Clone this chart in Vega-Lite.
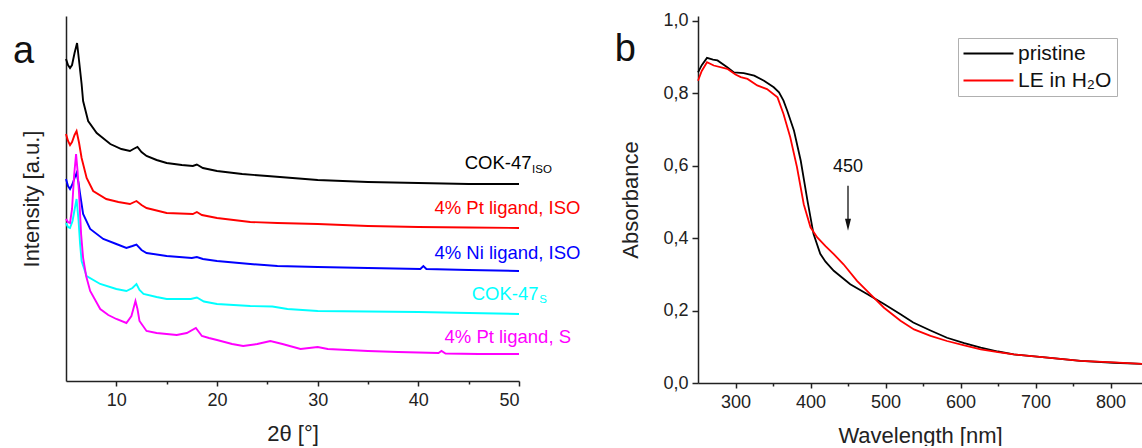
{
  "$schema": "https://vega.github.io/schema/vega-lite/v6.json",
  "background": "white",
  "padding": {"left": 13, "top": 11, "right": 0, "bottom": 0},
  "bounds": "flush",
  "spacing": 179,
  "config": {
    "font": "Liberation Sans",
    "view": {"stroke": null},
    "axis": {
      "domainColor": "#222", "domainWidth": 1.5, "tickColor": "#222", "tickWidth": 1.5,
      "labelFontSize": 18, "titleFontSize": 22, "titleFontWeight": "normal",
      "labelColor": "#222", "titleColor": "#222", "grid": false,
      "labelFont": "Liberation Sans", "titleFont": "Liberation Sans"
    }
  },
  "resolve": {"scale": {"color": "independent"}},
  "datasets": {
    "xrd": [
      {"s":"COK-47 ISO","t":5.0,"i":322},{"s":"COK-47 ISO","t":5.2,"i":316},{"s":"COK-47 ISO","t":5.4,"i":313},{"s":"COK-47 ISO","t":5.6,"i":316},{"s":"COK-47 ISO","t":5.85,"i":328},{"s":"COK-47 ISO","t":6.1,"i":338},{"s":"COK-47 ISO","t":6.3,"i":320},{"s":"COK-47 ISO","t":6.55,"i":297},{"s":"COK-47 ISO","t":6.7,"i":280},{"s":"COK-47 ISO","t":7.2,"i":260},{"s":"COK-47 ISO","t":8.05,"i":248},{"s":"COK-47 ISO","t":9.4,"i":237},{"s":"COK-47 ISO","t":10.5,"i":232},{"s":"COK-47 ISO","t":11.35,"i":230},{"s":"COK-47 ISO","t":11.7,"i":232},{"s":"COK-47 ISO","t":12.1,"i":234},{"s":"COK-47 ISO","t":12.5,"i":229},{"s":"COK-47 ISO","t":13.0,"i":225},{"s":"COK-47 ISO","t":14.0,"i":221},{"s":"COK-47 ISO","t":15.0,"i":218},{"s":"COK-47 ISO","t":16.5,"i":216},{"s":"COK-47 ISO","t":17.6,"i":215},{"s":"COK-47 ISO","t":18.0,"i":216.5},{"s":"COK-47 ISO","t":18.6,"i":213},{"s":"COK-47 ISO","t":20,"i":210},{"s":"COK-47 ISO","t":22.5,"i":207},{"s":"COK-47 ISO","t":25,"i":205},{"s":"COK-47 ISO","t":27.5,"i":203},{"s":"COK-47 ISO","t":30,"i":201},{"s":"COK-47 ISO","t":35,"i":199},{"s":"COK-47 ISO","t":40,"i":198},{"s":"COK-47 ISO","t":45,"i":197},{"s":"COK-47 ISO","t":50,"i":197},

      {"s":"4% Pt ligand, ISO","t":5.0,"i":247},{"s":"4% Pt ligand, ISO","t":5.2,"i":240},{"s":"4% Pt ligand, ISO","t":5.4,"i":236},{"s":"4% Pt ligand, ISO","t":5.6,"i":239},{"s":"4% Pt ligand, ISO","t":5.85,"i":246},{"s":"4% Pt ligand, ISO","t":6.05,"i":250},{"s":"4% Pt ligand, ISO","t":6.3,"i":238},{"s":"4% Pt ligand, ISO","t":6.55,"i":223},{"s":"4% Pt ligand, ISO","t":7.05,"i":203},{"s":"4% Pt ligand, ISO","t":7.7,"i":190},{"s":"4% Pt ligand, ISO","t":9.0,"i":182},{"s":"4% Pt ligand, ISO","t":10.2,"i":179},{"s":"4% Pt ligand, ISO","t":11.35,"i":177},{"s":"4% Pt ligand, ISO","t":12.0,"i":180},{"s":"4% Pt ligand, ISO","t":12.5,"i":176},{"s":"4% Pt ligand, ISO","t":13.0,"i":173},{"s":"4% Pt ligand, ISO","t":15.0,"i":168},{"s":"4% Pt ligand, ISO","t":17.6,"i":167},{"s":"4% Pt ligand, ISO","t":18.0,"i":169},{"s":"4% Pt ligand, ISO","t":18.5,"i":166},{"s":"4% Pt ligand, ISO","t":20,"i":163},{"s":"4% Pt ligand, ISO","t":23.3,"i":159},{"s":"4% Pt ligand, ISO","t":26,"i":158},{"s":"4% Pt ligand, ISO","t":30,"i":157},{"s":"4% Pt ligand, ISO","t":35,"i":155},{"s":"4% Pt ligand, ISO","t":40,"i":154},{"s":"4% Pt ligand, ISO","t":45,"i":153.5},{"s":"4% Pt ligand, ISO","t":50,"i":153},

      {"s":"4% Ni ligand, ISO","t":5.0,"i":202},{"s":"4% Ni ligand, ISO","t":5.2,"i":195},{"s":"4% Ni ligand, ISO","t":5.4,"i":192},{"s":"4% Ni ligand, ISO","t":5.6,"i":196},{"s":"4% Ni ligand, ISO","t":5.85,"i":203},{"s":"4% Ni ligand, ISO","t":6.05,"i":208},{"s":"4% Ni ligand, ISO","t":6.25,"i":198},{"s":"4% Ni ligand, ISO","t":6.4,"i":187},{"s":"4% Ni ligand, ISO","t":6.7,"i":167},{"s":"4% Ni ligand, ISO","t":7.4,"i":152},{"s":"4% Ni ligand, ISO","t":8.7,"i":142},{"s":"4% Ni ligand, ISO","t":10,"i":137},{"s":"4% Ni ligand, ISO","t":11.0,"i":133},{"s":"4% Ni ligand, ISO","t":11.6,"i":135},{"s":"4% Ni ligand, ISO","t":12.0,"i":136.5},{"s":"4% Ni ligand, ISO","t":12.5,"i":131},{"s":"4% Ni ligand, ISO","t":13.0,"i":128},{"s":"4% Ni ligand, ISO","t":15.0,"i":125},{"s":"4% Ni ligand, ISO","t":17.5,"i":123},{"s":"4% Ni ligand, ISO","t":18.0,"i":124},{"s":"4% Ni ligand, ISO","t":18.6,"i":122},{"s":"4% Ni ligand, ISO","t":20,"i":120},{"s":"4% Ni ligand, ISO","t":23.3,"i":117},{"s":"4% Ni ligand, ISO","t":26,"i":115},{"s":"4% Ni ligand, ISO","t":30,"i":114},{"s":"4% Ni ligand, ISO","t":35,"i":113},{"s":"4% Ni ligand, ISO","t":40.2,"i":112},{"s":"4% Ni ligand, ISO","t":40.5,"i":115},{"s":"4% Ni ligand, ISO","t":40.8,"i":112},{"s":"4% Ni ligand, ISO","t":45,"i":111},{"s":"4% Ni ligand, ISO","t":50,"i":110},

      {"s":"COK-47 S","t":5.0,"i":158},{"s":"COK-47 S","t":5.2,"i":154},{"s":"COK-47 S","t":5.4,"i":153},{"s":"COK-47 S","t":5.65,"i":160},{"s":"COK-47 S","t":5.9,"i":174},{"s":"COK-47 S","t":6.05,"i":182},{"s":"COK-47 S","t":6.25,"i":160},{"s":"COK-47 S","t":6.4,"i":137},{"s":"COK-47 S","t":6.55,"i":120},{"s":"COK-47 S","t":7.05,"i":105},{"s":"COK-47 S","t":8.4,"i":97},{"s":"COK-47 S","t":10,"i":92},{"s":"COK-47 S","t":11.0,"i":90},{"s":"COK-47 S","t":11.6,"i":93},{"s":"COK-47 S","t":12.0,"i":97},{"s":"COK-47 S","t":12.3,"i":91},{"s":"COK-47 S","t":12.7,"i":87},{"s":"COK-47 S","t":14,"i":84},{"s":"COK-47 S","t":15.0,"i":82},{"s":"COK-47 S","t":17.4,"i":82},{"s":"COK-47 S","t":18.0,"i":83.5},{"s":"COK-47 S","t":18.7,"i":79.5},{"s":"COK-47 S","t":20,"i":77},{"s":"COK-47 S","t":23.3,"i":75},{"s":"COK-47 S","t":25.5,"i":74.5},{"s":"COK-47 S","t":27,"i":72},{"s":"COK-47 S","t":30,"i":70},{"s":"COK-47 S","t":35,"i":69.5},{"s":"COK-47 S","t":40,"i":69},{"s":"COK-47 S","t":45,"i":68},{"s":"COK-47 S","t":50,"i":67},

      {"s":"4% Pt ligand, S","t":5.0,"i":162},{"s":"4% Pt ligand, S","t":5.2,"i":159},{"s":"4% Pt ligand, S","t":5.4,"i":158},{"s":"4% Pt ligand, S","t":5.6,"i":172},{"s":"4% Pt ligand, S","t":5.8,"i":205},{"s":"4% Pt ligand, S","t":6.0,"i":227},{"s":"4% Pt ligand, S","t":6.15,"i":210},{"s":"4% Pt ligand, S","t":6.3,"i":187},{"s":"4% Pt ligand, S","t":6.5,"i":147},{"s":"4% Pt ligand, S","t":6.7,"i":123},{"s":"4% Pt ligand, S","t":7.0,"i":105},{"s":"4% Pt ligand, S","t":7.4,"i":90},{"s":"4% Pt ligand, S","t":8.4,"i":72},{"s":"4% Pt ligand, S","t":9.2,"i":66},{"s":"4% Pt ligand, S","t":10.0,"i":62},{"s":"4% Pt ligand, S","t":11.0,"i":58},{"s":"4% Pt ligand, S","t":11.5,"i":65},{"s":"4% Pt ligand, S","t":11.9,"i":80},{"s":"4% Pt ligand, S","t":12.1,"i":72},{"s":"4% Pt ligand, S","t":12.3,"i":60},{"s":"4% Pt ligand, S","t":13.0,"i":50},{"s":"4% Pt ligand, S","t":14,"i":48},{"s":"4% Pt ligand, S","t":15.0,"i":47},{"s":"4% Pt ligand, S","t":16,"i":46},{"s":"4% Pt ligand, S","t":17.0,"i":48},{"s":"4% Pt ligand, S","t":17.9,"i":53},{"s":"4% Pt ligand, S","t":18.5,"i":45},{"s":"4% Pt ligand, S","t":19.2,"i":43},{"s":"4% Pt ligand, S","t":20.0,"i":41},{"s":"4% Pt ligand, S","t":21.5,"i":37},{"s":"4% Pt ligand, S","t":22.6,"i":35},{"s":"4% Pt ligand, S","t":24,"i":37},{"s":"4% Pt ligand, S","t":25.3,"i":40},{"s":"4% Pt ligand, S","t":26.5,"i":37},{"s":"4% Pt ligand, S","t":28.3,"i":32},{"s":"4% Pt ligand, S","t":30.0,"i":34},{"s":"4% Pt ligand, S","t":31,"i":32},{"s":"4% Pt ligand, S","t":35,"i":30},{"s":"4% Pt ligand, S","t":38,"i":29},{"s":"4% Pt ligand, S","t":42.0,"i":28},{"s":"4% Pt ligand, S","t":42.3,"i":30},{"s":"4% Pt ligand, S","t":42.7,"i":27.5},{"s":"4% Pt ligand, S","t":46,"i":27},{"s":"4% Pt ligand, S","t":50,"i":27}
    ],
    "xrdlabels": [
      {"s":"COK-47 ISO","text":"COK-47","t":44.6,"i":218.5,"kind":"main"},
      {"s":"COK-47 ISO","text":"ISO","t":51.3,"i":211.5,"kind":"sub"},
      {"s":"4% Pt ligand, ISO","text":"4% Pt ligand, ISO","t":41.6,"i":173.5,"kind":"main"},
      {"s":"4% Ni ligand, ISO","text":"4% Ni ligand, ISO","t":41.6,"i":128.5,"kind":"main"},
      {"s":"COK-47 S","text":"COK-47","t":45.3,"i":87,"kind":"main"},
      {"s":"COK-47 S","text":"S","t":52.0,"i":81,"kind":"sub"},
      {"s":"4% Pt ligand, S","text":"4% Pt ligand, S","t":42.6,"i":44,"kind":"main"}
    ],
    "panelA": [{"text":"a","t":-0.26,"i":318}],
    "panelB": [{"text":"b","wl":139,"abs":0.889}],
    "uv": [
      {"sample":"pristine","wl":250,"abs":0.858},{"sample":"pristine","wl":255,"abs":0.878},{"sample":"pristine","wl":262,"abs":0.898},{"sample":"pristine","wl":270,"abs":0.893},{"sample":"pristine","wl":276,"abs":0.891},{"sample":"pristine","wl":289,"abs":0.872},{"sample":"pristine","wl":298,"abs":0.858},{"sample":"pristine","wl":311,"abs":0.856},{"sample":"pristine","wl":325,"abs":0.849},{"sample":"pristine","wl":338,"abs":0.835},{"sample":"pristine","wl":351,"abs":0.817},{"sample":"pristine","wl":358,"abs":0.803},{"sample":"pristine","wl":364,"abs":0.78},{"sample":"pristine","wl":369,"abs":0.752},{"sample":"pristine","wl":378,"abs":0.697},{"sample":"pristine","wl":387,"abs":0.614},{"sample":"pristine","wl":396,"abs":0.503},{"sample":"pristine","wl":404,"abs":0.412},{"sample":"pristine","wl":413,"abs":0.357},{"sample":"pristine","wl":420,"abs":0.335},{"sample":"pristine","wl":431,"abs":0.31},{"sample":"pristine","wl":453,"abs":0.273},{"sample":"pristine","wl":476,"abs":0.245},{"sample":"pristine","wl":498,"abs":0.218},{"sample":"pristine","wl":520,"abs":0.19},{"sample":"pristine","wl":537,"abs":0.167},{"sample":"pristine","wl":560,"abs":0.145},{"sample":"pristine","wl":582,"abs":0.125},{"sample":"pristine","wl":605,"abs":0.11},{"sample":"pristine","wl":627,"abs":0.098},{"sample":"pristine","wl":650,"abs":0.087},{"sample":"pristine","wl":671,"abs":0.079},{"sample":"pristine","wl":716,"abs":0.07},{"sample":"pristine","wl":760,"abs":0.061},{"sample":"pristine","wl":804,"abs":0.056},{"sample":"pristine","wl":842,"abs":0.053},
      {"sample":"LE in H₂O","wl":250,"abs":0.835},{"sample":"LE in H₂O","wl":255,"abs":0.862},{"sample":"LE in H₂O","wl":262,"abs":0.886},{"sample":"LE in H₂O","wl":271,"abs":0.877},{"sample":"LE in H₂O","wl":289,"abs":0.868},{"sample":"LE in H₂O","wl":300,"abs":0.852},{"sample":"LE in H₂O","wl":307,"abs":0.845},{"sample":"LE in H₂O","wl":316,"abs":0.84},{"sample":"LE in H₂O","wl":329,"abs":0.822},{"sample":"LE in H₂O","wl":342,"abs":0.812},{"sample":"LE in H₂O","wl":356,"abs":0.789},{"sample":"LE in H₂O","wl":364,"abs":0.743},{"sample":"LE in H₂O","wl":373,"abs":0.679},{"sample":"LE in H₂O","wl":382,"abs":0.596},{"sample":"LE in H₂O","wl":391,"abs":0.494},{"sample":"LE in H₂O","wl":400,"abs":0.43},{"sample":"LE in H₂O","wl":409,"abs":0.402},{"sample":"LE in H₂O","wl":420,"abs":0.378},{"sample":"LE in H₂O","wl":431,"abs":0.356},{"sample":"LE in H₂O","wl":444,"abs":0.328},{"sample":"LE in H₂O","wl":462,"abs":0.282},{"sample":"LE in H₂O","wl":480,"abs":0.245},{"sample":"LE in H₂O","wl":498,"abs":0.208},{"sample":"LE in H₂O","wl":520,"abs":0.172},{"sample":"LE in H₂O","wl":538,"abs":0.148},{"sample":"LE in H₂O","wl":560,"abs":0.13},{"sample":"LE in H₂O","wl":582,"abs":0.116},{"sample":"LE in H₂O","wl":605,"abs":0.104},{"sample":"LE in H₂O","wl":627,"abs":0.093},{"sample":"LE in H₂O","wl":650,"abs":0.085},{"sample":"LE in H₂O","wl":671,"abs":0.079},{"sample":"LE in H₂O","wl":716,"abs":0.07},{"sample":"LE in H₂O","wl":760,"abs":0.061},{"sample":"LE in H₂O","wl":804,"abs":0.057},{"sample":"LE in H₂O","wl":842,"abs":0.053}
    ],
    "arrow": [{"wl":450,"top":0.545,"bot":0.45,"tip":0.437,"ly":0.597,"label":"450"}]
  },
  "hconcat": [
    {
      "width": 453,
      "height": 365,
      "layer": [
        {
          "data": {"name": "xrd"},
          "mark": {"type": "line", "strokeWidth": 1.9},
          "encoding": {
            "x": {"field": "t", "type": "quantitative", "scale": {"domain": [5, 50], "nice": false, "zero": false},
              "axis": {"title": "2θ [°]", "values": [10,15,20,25,30,35,40,45,50], "labelExpr": "datum.value % 10 === 0 ? datum.label : ''", "tickSize": {"condition": {"test": "datum.value % 10 !== 0", "value": 3}, "value": 5}, "labelPadding": 5, "titlePadding": 14}},
            "y": {"field": "i", "type": "quantitative", "scale": {"domain": [0, 365], "nice": false},
              "axis": {"title": "Intensity [a.u.]", "ticks": false, "labels": false, "titlePadding": 23}},
            "color": {"field": "s", "type": "nominal", "legend": null,
              "scale": {"domain": ["COK-47 ISO","4% Pt ligand, ISO","4% Ni ligand, ISO","COK-47 S","4% Pt ligand, S"], "range": ["#000000","#ff0000","#0000ff","#00ffff","#ff00ff"]}}
          }
        },
        {
          "data": {"name": "xrdlabels"},
          "transform": [{"filter": "datum.kind === 'main'"}],
          "mark": {"type": "text", "align": "left", "baseline": "middle", "fontSize": 18.5},
          "encoding": {
            "x": {"field": "t", "type": "quantitative"},
            "y": {"field": "i", "type": "quantitative"},
            "text": {"field": "text"},
            "color": {"field": "s", "type": "nominal", "legend": null}
          }
        },
        {
          "data": {"name": "xrdlabels"},
          "transform": [{"filter": "datum.kind === 'sub'"}],
          "mark": {"type": "text", "align": "left", "baseline": "middle", "fontSize": 11.5},
          "encoding": {
            "x": {"field": "t", "type": "quantitative"},
            "y": {"field": "i", "type": "quantitative"},
            "text": {"field": "text"},
            "color": {"field": "s", "type": "nominal", "legend": null}
          }
        },
        {
          "data": {"name": "panelA"},
          "mark": {"type": "text", "align": "left", "baseline": "alphabetic", "fontSize": 38, "color": "#111"},
          "encoding": {
            "x": {"field": "t", "type": "quantitative"},
            "y": {"field": "i", "type": "quantitative"},
            "text": {"field": "text"}
          }
        }
      ]
    },
    {
      "width": 444,
      "height": 367,
      "layer": [
        {
          "data": {"name": "uv"},
          "mark": {"type": "line", "strokeWidth": 1.8},
          "encoding": {
            "x": {"field": "wl", "type": "quantitative", "scale": {"domain": [250, 842], "nice": false, "zero": false},
              "axis": {"title": "Wavelength [nm]", "values": [300,350,400,450,500,550,600,650,700,750,800], "labelExpr": "datum.value % 100 === 0 ? datum.label : ''", "tickSize": {"condition": {"test": "datum.value % 100 !== 0", "value": 3}, "value": 5}, "labelPadding": 5, "titlePadding": 14}},
            "y": {"field": "abs", "type": "quantitative", "scale": {"domain": [0, 1.0138], "nice": false},
              "axis": {"title": "Absorbance", "values": [0,0.1,0.2,0.3,0.4,0.5,0.6,0.7,0.8,0.9,1.0], "labelExpr": "round(datum.value*10) % 2 === 0 ? replace(format(datum.value, '.1f'), '.', ',') : ''", "tickSize": {"condition": {"test": "round(datum.value*10) % 2 !== 0", "value": 3}, "value": 6}, "labelPadding": 4, "titlePadding": 20}},
            "color": {"field": "sample", "type": "nominal",
              "scale": {"domain": ["pristine", "LE in H₂O"], "range": ["#000000", "#ff0000"]},
              "legend": {"title": null, "orient": "none", "legendX": 260, "legendY": 22, "symbolType": "M-2,0H8", "symbolSize": 100, "symbolStrokeWidth": 2, "labelFontSize": 21, "labelFont": "Liberation Sans", "labelColor": "#111", "labelOffset": 34, "rowPadding": 5, "padding": 5, "strokeColor": "#b0b0b0", "fillColor": "white", "cornerRadius": 0}}
          }
        },
        {
          "data": {"name": "arrow"},
          "mark": {"type": "rule", "strokeWidth": 1.3, "color": "#111"},
          "encoding": {
            "x": {"field": "wl", "type": "quantitative"},
            "y": {"field": "top", "type": "quantitative"},
            "y2": {"field": "bot"}
          }
        },
        {
          "data": {"name": "arrow"},
          "mark": {"type": "point", "shape": "M-0.5,-1L0.5,-1L0,1Z", "filled": true, "color": "#111", "size": 144, "opacity": 1},
          "encoding": {
            "x": {"field": "wl", "type": "quantitative"},
            "y": {"field": "tip", "type": "quantitative"}
          }
        },
        {
          "data": {"name": "arrow"},
          "mark": {"type": "text", "fontSize": 18, "color": "#111", "baseline": "middle"},
          "encoding": {
            "x": {"field": "wl", "type": "quantitative"},
            "y": {"field": "ly", "type": "quantitative"},
            "text": {"field": "label"}
          }
        },
        {
          "data": {"name": "panelB"},
          "mark": {"type": "text", "align": "left", "baseline": "alphabetic", "fontSize": 38, "color": "#111"},
          "encoding": {
            "x": {"field": "wl", "type": "quantitative"},
            "y": {"field": "abs", "type": "quantitative"},
            "text": {"field": "text"}
          }
        }
      ]
    }
  ]
}
